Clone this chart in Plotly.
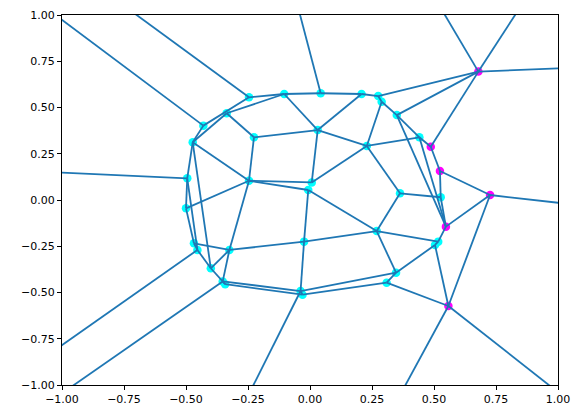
import plotly.graph_objects as go

# Vertex names and coordinates
names = ["A","B","C","D","E","F","G","H","I","J","K1","K2","L","M","N","O","P","Q","R",
         "S1","S2","T","U","V","X","Y","Z","AA","BB","CC","DD","EE1","EE2","FF",
         "II","JJ1","JJ2","KK","LL","MM1","MM2"]
vx = [-0.246,-0.104,-0.336,-0.430,-0.473,-0.226,-0.246,-0.495,0.043,0.208,0.275,0.289,0.350,0.031,0.229,0.007,-0.007,-0.024,0.269,
      -0.038,-0.030,0.347,0.309,0.679,0.441,0.487,0.524,0.363,0.527,0.726,0.548,0.517,0.504,0.558,
      -0.500,-0.468,-0.454,-0.325,-0.400,-0.352,-0.342]
vy = [0.555,0.573,0.469,0.402,0.312,0.339,0.104,0.117,0.577,0.573,0.562,0.531,0.459,0.378,0.292,0.095,0.054,-0.225,-0.168,
      -0.492,-0.512,-0.393,-0.447,0.694,0.339,0.288,0.157,0.036,0.015,0.027,-0.144,-0.225,-0.243,-0.573,
      -0.045,-0.234,-0.270,-0.270,-0.369,-0.440,-0.455]
highlight = ["V","Y","Z","CC","DD","FF"]

# Finite ridges
edges = [("D","A"),("A","B"),("B","I"),("I","J"),("J","K1"),("K1","K2"),("K1","V"),("K2","L"),("K2","N"),
         ("L","V"),("L","X"),("X","Y"),("Y","V"),("Y","Z"),("Z","CC"),("Z","BB"),("BB","DD"),("L","DD"),
         ("X","DD"),("DD","CC"),("CC","FF"),("DD","EE1"),("EE1","EE2"),("EE2","FF"),("EE2","T"),("R","EE1"),
         ("T","U"),("U","FF"),("R","T"),("R","AA"),("R","Q"),("R","P"),("AA","BB"),("AA","N"),("N","X"),
         ("N","M"),("N","O"),("M","B"),("M","J"),("M","F"),("M","O"),("G","O"),("G","P"),("P","Q"),
         ("Q","KK"),("Q","S1"),("S1","S2"),("S1","T"),("S2","U"),("MM1","S1"),("MM2","S2"),("MM1","MM2"),
         ("KK","MM1"),("LL","MM2"),("JJ2","LL"),("E","LL"),("KK","LL"),("G","KK"),("G","II"),("F","G"),
         ("E","G"),("C","F"),("E","C"),("C","B"),("D","E"),("E","H"),("H","II"),("II","JJ1"),("H","JJ2"),
         ("JJ1","JJ2"),("JJ1","KK")]

# Infinite ridges: start vertex and far point
inf_start = ["D","A","I","V","V","V","H","CC","FF","FF","JJ2","MM1","S1"]
inf_x = [-1.570,-1.152,-0.123,0.409,0.975,1.321,-1.505,1.274,0.212,1.368,-1.546,-1.556,-0.418]
inf_y = [1.544,1.445,1.423,1.306,1.306,0.730,0.179,-0.057,-1.427,-1.427,-1.298,-1.564,-1.508]

ticks = [-1.0,-0.75,-0.5,-0.25,0.0,0.25,0.5,0.75,1.0]
tick_text = [f"{t:.2f}".replace("-", "\u2212") for t in ticks]

idx = {n: i for i, n in enumerate(names)}
lx, ly = [], []
for a, b in edges:
    lx += [vx[idx[a]], vx[idx[b]], None]
    ly += [vy[idx[a]], vy[idx[b]], None]
for s, fx, fy in zip(inf_start, inf_x, inf_y):
    lx += [vx[idx[s]], fx, None]
    ly += [vy[idx[s]], fy, None]

cx = [vx[i] for i, n in enumerate(names) if n not in highlight]
cy = [vy[i] for i, n in enumerate(names) if n not in highlight]
mx = [vx[idx[n]] for n in highlight]
my = [vy[idx[n]] for n in highlight]

fig = go.Figure()
fig.add_trace(go.Scatter(x=cx, y=cy, mode="markers",
                         marker=dict(color="#00ffff", size=8.5, line=dict(width=0)),
                         cliponaxis=True, hoverinfo="skip"))
fig.add_trace(go.Scatter(x=mx, y=my, mode="markers",
                         marker=dict(color="#ff00ff", size=8.5, line=dict(width=0)),
                         cliponaxis=True, hoverinfo="skip"))
fig.add_trace(go.Scatter(x=lx, y=ly, mode="lines",
                         line=dict(color="#1f77b4", width=1.8), hoverinfo="skip"))

axis_common = dict(range=[-1, 1], tickvals=ticks, ticktext=tick_text, showgrid=False,
                   zeroline=False, showline=True, linecolor="black", linewidth=1,
                   mirror=True, ticks="outside", ticklen=4, tickwidth=1, tickcolor="black",
                   automargin=False,
                   tickfont=dict(family="DejaVu Sans", size=11, color="black"))
fig.update_layout(
    width=575, height=410,
    margin=dict(l=54, r=25, t=7, b=33),
    paper_bgcolor="white", plot_bgcolor="white",
    showlegend=False,
    xaxis=axis_common,
    yaxis=axis_common,
)
fig.write_html("out.html")
